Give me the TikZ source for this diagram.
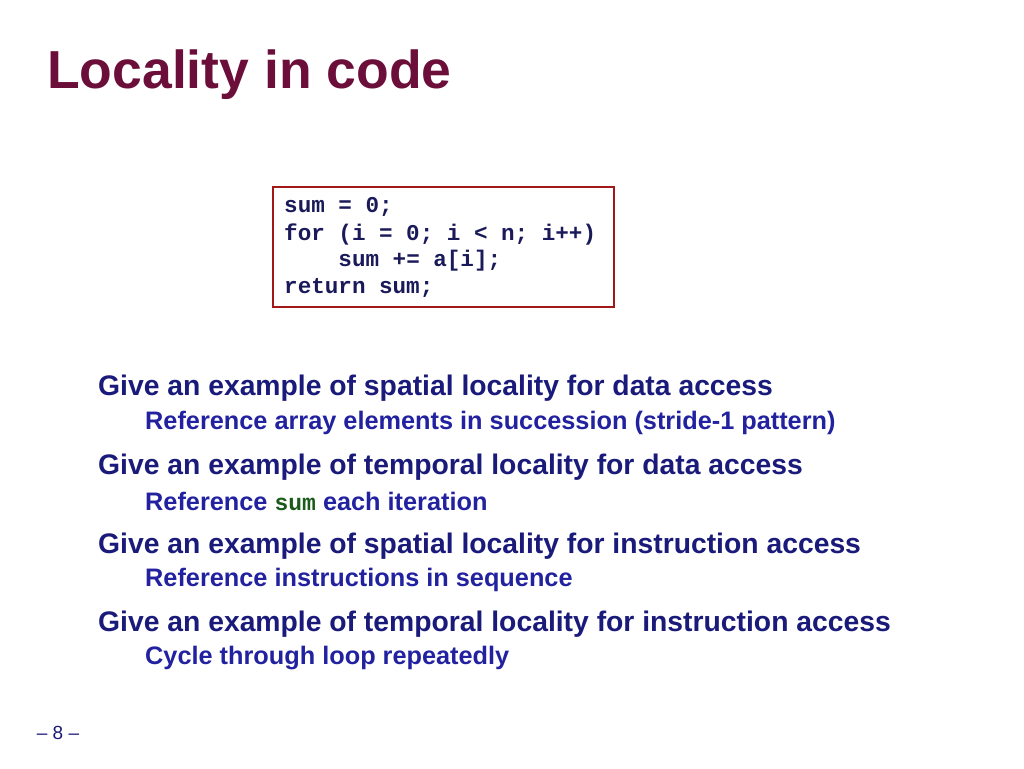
\documentclass[tikz,border=0pt]{standalone}
\usepackage{fontspec}
\setmainfont{Liberation Sans}
\setmonofont{Liberation Mono}
\definecolor{titlec}{HTML}{6B0F3A}
\definecolor{mainc}{HTML}{1A1A7A}
\definecolor{subc}{HTML}{2222A0}
\definecolor{boxc}{HTML}{A01818}
\definecolor{codec}{HTML}{1A1A5A}
\definecolor{greenc}{HTML}{1A5A1A}
\begin{document}
\begin{tikzpicture}[x=1pt,y=-1pt,
  main/.style={anchor=west,inner sep=0,text=mainc,font=\fontsize{28.3}{32}\selectfont\bfseries},
  sub/.style={anchor=west,inner sep=0,text=subc,font=\fontsize{25.3}{28}\selectfont\bfseries},
  code/.style={anchor=west,inner sep=0,text=codec,font=\ttfamily\bfseries\fontsize{22.6}{26}\selectfont}]
\useasboundingbox (0,0) rectangle (1024,768);
\node[anchor=base west,inner sep=0,text=titlec,font=\fontsize{53.5}{60}\selectfont\bfseries] (title) at (47,88) {Locality in code};
\draw[boxc,line width=2pt] (273,187) rectangle (614,307);
\node[code] (c1) at (284,207) {sum = 0;};
\node[code] (c2) at (284,234) {for (i = 0; i < n; i++)};
\node[code] (c3) at (284,261) {\ \ \ \ sum += a[i];};
\node[code] (c4) at (284,288) {return sum;};
\node[main] (m1) at (98,388) {Give an example of spatial locality for data access};
\node[sub] (s1) at (145,423) {Reference array elements in succession (stride-1 pattern)};
\node[main] (m2) at (98,467) {Give an example of temporal locality for data access};
\node[sub] (s2) at (145,501) {Reference {\color{greenc}\ttfamily\fontsize{23}{26}\selectfont sum} each iteration};
\node[main] (m3) at (98,546) {Give an example of spatial locality for instruction access};
\node[sub] (s3) at (145,580) {Reference instructions in sequence};
\node[main] (m4) at (98,624) {Give an example of temporal locality for instruction access};
\node[sub] (s4) at (145,658) {Cycle through loop repeatedly};
\node[anchor=center,inner sep=0,text=mainc,font=\sffamily\fontsize{19}{22}\selectfont] (pg) at (58,733) {\fontspec{Liberation Sans}– 8 –};
\end{tikzpicture}
\end{document}
